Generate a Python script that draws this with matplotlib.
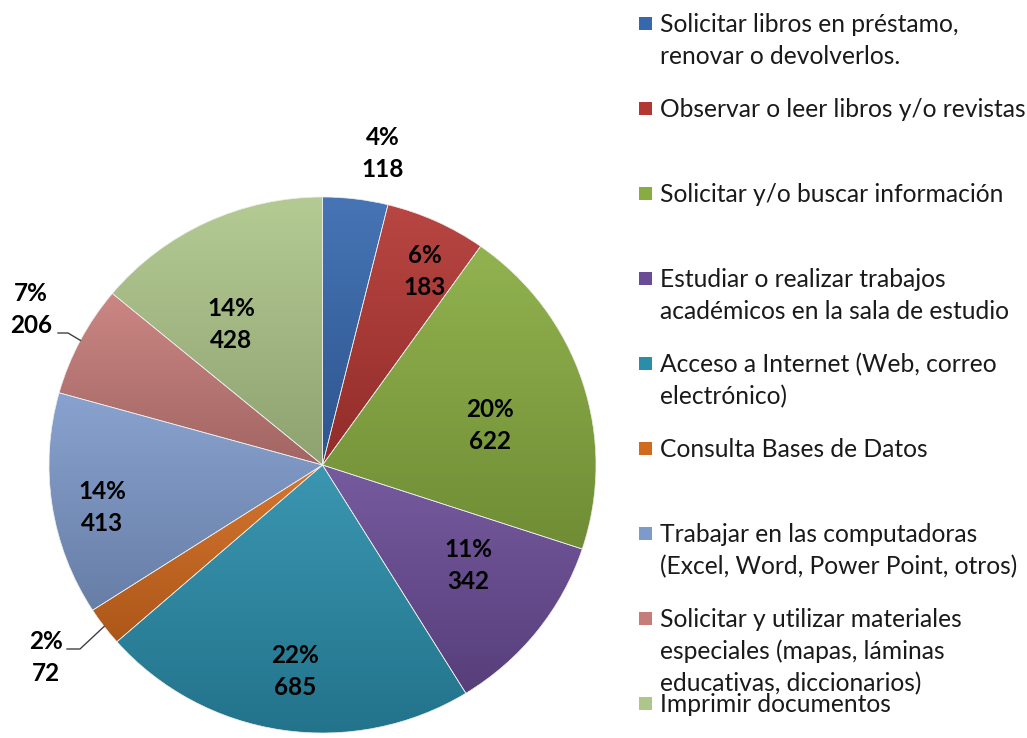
import numpy as np
import matplotlib.pyplot as plt
from matplotlib.colors import LinearSegmentedColormap, to_rgb
from matplotlib.patches import Rectangle

plt.rcParams['font.family'] = ['Lato', 'DejaVu Sans']

W, H = 1027, 738

categories = [
    "Solicitar libros en préstamo,\nrenovar o devolverlos.",
    "Observar o leer libros y/o revistas",
    "Solicitar y/o buscar información",
    "Estudiar o realizar trabajos\nacadémicos en la sala de estudio",
    "Acceso a Internet (Web, correo\nelectrónico)",
    "Consulta Bases de Datos",
    "Trabajar en las computadoras\n(Excel, Word, Power Point, otros)",
    "Solicitar y utilizar materiales\nespeciales (mapas, láminas\neducativas, diccionarios)",
    "Imprimir documentos",
]
values = [118, 183, 622, 342, 685, 72, 413, 206, 428]
pct_labels = ["4%", "6%", "20%", "11%", "22%", "2%", "14%", "7%", "14%"]
colors = ["#3668AE", "#B23632", "#88AC40", "#6A4C96", "#2A8DAA",
          "#D26A1E", "#7E9ACB", "#C67C79", "#AEC68A"]

# label positions in pixels (x centre, baseline of first line)
label_pos = [(383, 145), (425, 263), (490, 417), (468, 557), (295, 663),
             (46, 649), (102, 499), (31, 301), (231, 316)]
leaders = {5: (67, 80, 649), 7: (58, 68, 333)}

# pie is very slightly squashed vertically in the original
SY = 268 / 273.5


def Y(py):
    return (H - py) / SY


def shade(c, f):
    r = np.array(to_rgb(c))
    if f > 0:
        return tuple(r + (1 - r) * f)
    return tuple(r * (1 + f))


fig = plt.figure(figsize=(W / 100, H / 100), dpi=100)
ax = fig.add_axes([0, 0, 1, 1])

cx, cy, R = 322.5, Y(465), 273.5
wedges, _ = ax.pie(values, colors=colors, startangle=90, counterclock=False,
                   center=(cx, cy), radius=R,
                   wedgeprops=dict(edgecolor="#eeeeee", linewidth=0.5))

for w, c in zip(wedges, colors):
    x0, y0, x1, y1 = w.get_path().get_extents().extents
    cmap = LinearSegmentedColormap.from_list("g", [shade(c, -0.18), shade(c, 0.08)])
    im = ax.imshow(np.linspace(0, 1, 64).reshape(-1, 1), cmap=cmap,
                   extent=[x0, x1, y0, y1], origin="lower", aspect="auto",
                   zorder=1.5)
    im.set_clip_path(w)
    w.set_facecolor("none")
    w.set_zorder(2)

for i, (pct, v) in enumerate(zip(pct_labels, values)):
    x, yb = label_pos[i]
    ax.text(x, Y(yb), pct, ha="center", va="baseline", fontsize=17.5,
            fontweight="bold", color="black", zorder=5)
    ax.text(x, Y(yb + 32), str(v), ha="center", va="baseline", fontsize=17.5,
            fontweight="bold", color="black", zorder=5)

for i, (xa, xb, yl) in leaders.items():
    w = wedges[i]
    mid = np.deg2rad((w.theta1 + w.theta2) / 2)
    ex, ey = cx + R * np.cos(mid), cy + R * np.sin(mid)
    ax.plot([xa, xb, ex], [Y(yl), Y(yl), ey], color="#404040", lw=1, zorder=4)

# legend
for i, (lab, c) in enumerate(zip(categories, colors)):
    base = 32 + 85 * i
    ax.add_patch(Rectangle((639, Y(base - 2)), 13, 13 / SY, facecolor=c,
                           edgecolor="none", zorder=3))
    for j, line in enumerate(lab.split("\n")):
        ax.text(660, Y(base + 32 * j), line, ha="left", va="baseline",
                fontsize=17.7, color="#1a1a1a")

ax.set_xlim(0, W)
ax.set_ylim(0, H / SY)
ax.axis("off")
fig.savefig("out.png", dpi=100)
